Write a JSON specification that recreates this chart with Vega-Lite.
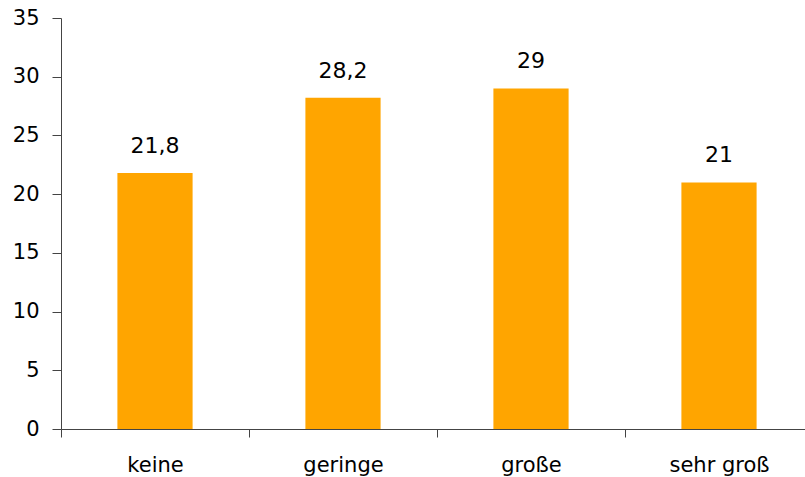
{
  "$schema": "https://vega.github.io/schema/vega-lite/v6.json",
  "width": 744,
  "height": 411,
  "autosize": {"type": "none"},
  "padding": {"left": 61, "top": 18, "right": 0, "bottom": 48},
  "background": "white",
  "config": {
    "view": {"stroke": null},
    "locale": {"number": {"decimal": ",", "thousands": ".", "grouping": [3], "currency": ["", " €"]}}
  },
  "data": {
    "values": [
      {"kategorie": "keine", "wert": 21.8},
      {"kategorie": "geringe", "wert": 28.2},
      {"kategorie": "große", "wert": 29},
      {"kategorie": "sehr groß", "wert": 21}
    ]
  },
  "encoding": {
    "x": {
      "field": "kategorie",
      "type": "nominal",
      "sort": null,
      "scale": {"range": [0, 752], "paddingInner": 0, "paddingOuter": 0},
      "axis": {
        "title": null,
        "labelAngle": 0,
        "tickBand": "extent",
        "tickSize": 8,
        "domainColor": "#444",
        "tickColor": "#444",
        "labelFont": "DejaVu Sans",
        "labelFontSize": 21,
        "labelColor": "black",
        "labelPadding": 17,
        "grid": false
      }
    },
    "y": {
      "field": "wert",
      "type": "quantitative",
      "scale": {"domain": [0, 35], "nice": false},
      "axis": {
        "title": null,
        "values": [0, 5, 10, 15, 20, 25, 30, 35],
        "grid": false,
        "tickSize": 9,
        "domainColor": "#444",
        "tickColor": "#444",
        "labelFont": "DejaVu Sans",
        "labelFontSize": 21,
        "labelColor": "black",
        "labelPadding": 13
      }
    }
  },
  "layer": [
    {"mark": {"type": "bar", "color": "#FFA500", "width": {"band": 0.4}}},
    {
      "mark": {"type": "text", "baseline": "alphabetic", "dy": -20, "font": "DejaVu Sans", "fontSize": 22, "color": "black"},
      "encoding": {"text": {"field": "wert", "type": "quantitative", "format": ".1~f"}}
    }
  ]
}
